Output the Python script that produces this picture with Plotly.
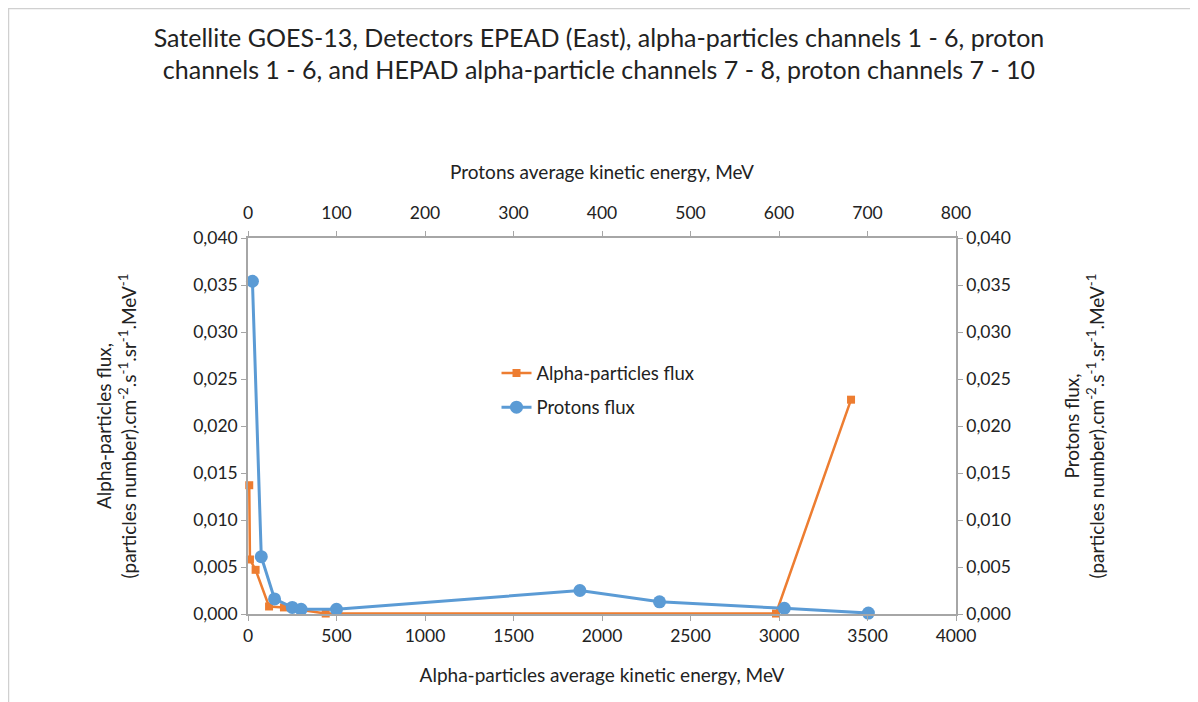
import plotly.graph_objects as go

# alpha-particles (bottom x axis, left y axis)
alpha_energy = [7, 11, 43, 119, 203, 439, 2983, 3407]
alpha_flux = [0.0137, 0.0058, 0.0047, 0.0008, 0.0007, 0.00005, 0.00005, 0.0228]

# protons (top x axis, right y axis)
proton_energy = [5, 15, 30, 50, 60, 100, 375, 465, 606, 701]
proton_flux = [0.0354, 0.0061, 0.0016, 0.0007, 0.0005, 0.0005, 0.0025, 0.0013, 0.0006, 0.0001]

title_text = ("Satellite GOES-13, Detectors EPEAD (East), alpha-particles channels 1 - 6, proton<br>"
              "channels 1 - 6, and HEPAD alpha-particle channels 7 - 8, proton channels 7 - 10")
units = "(particles number).cm<sup>-2</sup>.s<sup>-1</sup>.sr<sup>-1</sup>.MeV<sup>-1</sup>"

FONT = "Lato, 'Open Sans', sans-serif"
AXIS_COLOR = "#a6a6a6"

fig = go.Figure()

fig.add_trace(go.Scatter(
    x=alpha_energy, y=alpha_flux,
    mode="lines+markers",
    name="Alpha-particles flux",
    legendgroup="alpha",
    line=dict(color="#ED7D31", width=2.5),
    marker=dict(symbol="square", size=8, color="#ED7D31"),
    xaxis="x", yaxis="y",
    cliponaxis=False))

fig.add_trace(go.Scatter(
    x=proton_energy, y=proton_flux,
    mode="lines+markers",
    name="Protons flux",
    legendgroup="protons",
    line=dict(color="#5B9BD5", width=3),
    marker=dict(symbol="circle", size=13, color="#5B9BD5"),
    xaxis="x2", yaxis="y2",
    cliponaxis=False))

axis_common = dict(
    showgrid=False, zeroline=False,
    showline=True, linecolor=AXIS_COLOR, linewidth=1.5,
    ticks="outside", ticklen=5, tickcolor=AXIS_COLOR, tickwidth=1,
    tickfont=dict(size=17.5, color="#222222", family=FONT),
)

fig.update_layout(
    width=1198, height=702,
    paper_bgcolor="white", plot_bgcolor="white",
    font=dict(family=FONT, color="#222222"),
    separators=", ",
    margin=dict(l=240, r=250, t=230, b=96),
    title=dict(text=title_text, x=0.4933, xref="container", xanchor="center",
               y=0.945, yref="container", yanchor="top",
               font=dict(size=25, family=FONT, color="#222222")),
    xaxis=dict(range=[0, 4000], dtick=500, side="bottom",
               title=dict(text="Alpha-particles average kinetic energy, MeV",
                          font=dict(size=19), standoff=24),
               **axis_common),
    xaxis2=dict(range=[0, 800], dtick=100, side="top", overlaying="x",
                ticklabelstandoff=5,
                title=dict(text="Protons average kinetic energy, MeV",
                           font=dict(size=19), standoff=18),
                **axis_common),
    yaxis=dict(range=[0, 0.04], dtick=0.005, tickformat=".3f",
               title=dict(text="Alpha-particles flux,<br>" + units,
                          font=dict(size=19), standoff=52),
               **axis_common),
    yaxis2=dict(range=[0, 0.04], dtick=0.005, tickformat=".3f", side="right",
                overlaying="y",
                title=dict(text="Protons flux,<br>" + units,
                           font=dict(size=19), standoff=56),
                **axis_common),
    legend=dict(x=0.351, y=0.69, xanchor="left", yanchor="top",
                bgcolor="rgba(0,0,0,0)", font=dict(size=18.5, family=FONT),
                tracegroupgap=7),
    showlegend=True,
)

# chart frame
fig.add_shape(type="rect", xref="paper", yref="paper",
              x0=-0.3383, x1=1.3319, y0=-0.3, y1=1.6104,
              line=dict(color="#d0d0d0", width=1.5), layer="below")

fig.write_html("out.html")
